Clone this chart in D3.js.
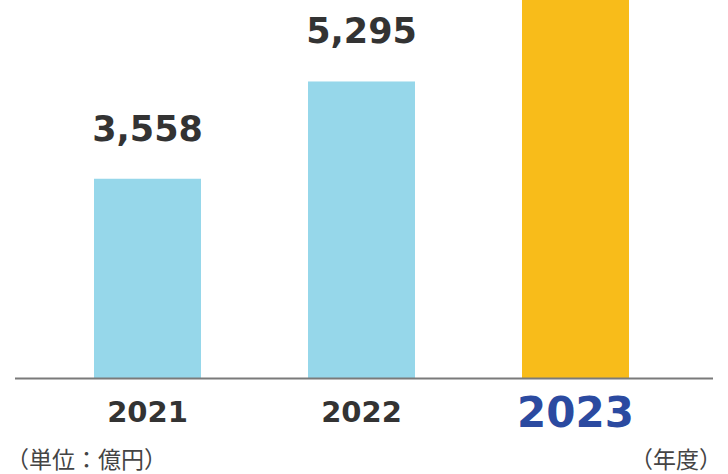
<!DOCTYPE html>
<html><head><meta charset="utf-8">
<script src="https://cdn.jsdelivr.net/npm/d3@7"></script>
<style>html,body{margin:0;padding:0;background:#fff;overflow:hidden}</style>
</head><body>
<svg id="c" width="728" height="474"></svg>
<script>
const years = ["2021", "2022", "2023"];
const values = [3558, 5295, 7000];
const highlight = "2023";
const unitLabel = "（単位：億円）";
const yearLabel = "（年度）";

const svg = d3.select("#c");
const baseY = 378;
const x = d3.scaleBand().domain(years).range([40.5, 682.5]).paddingInner(0.5).paddingOuter(0.25);
const y = d3.scaleLinear().domain([0, 6750]).range([baseY, 0]);
const fmt = d3.format(",");

svg.selectAll("rect.bar").data(years).join("rect")
  .attr("class", "bar")
  .attr("x", d => x(d))
  .attr("width", x.bandwidth())
  .attr("y", (d, i) => Math.max(0, y(values[i])))
  .attr("height", (d, i) => baseY - Math.max(0, y(values[i])))
  .attr("fill", d => d === highlight ? "#f8bc1a" : "#96d7ea");

svg.selectAll("text.val").data(years.filter((d, i) => y(values[i]) - 38 > 20)).join("text")
  .attr("class", "val")
  .attr("x", d => x(d) + x.bandwidth() / 2)
  .attr("y", d => y(values[years.indexOf(d)]) - 38)
  .attr("text-anchor", "middle")
  .attr("font-family", "DejaVu Sans")
  .attr("font-weight", "bold")
  .attr("font-size", 35)
  .attr("fill", "#333")
  .text(d => fmt(values[years.indexOf(d)]));

svg.append("line")
  .attr("x1", 15).attr("x2", 713)
  .attr("y1", baseY + 0.5).attr("y2", baseY + 0.5)
  .attr("stroke", "#7a7a7a").attr("stroke-width", 2);

svg.selectAll("text.yr").data(years).join("text")
  .attr("class", "yr")
  .attr("x", d => x(d) + x.bandwidth() / 2)
  .attr("y", d => d === highlight ? 427 : 422)
  .attr("text-anchor", "middle")
  .attr("font-family", "DejaVu Sans")
  .attr("font-weight", "bold")
  .attr("font-size", d => d === highlight ? 42 : 29)
  .attr("fill", d => d === highlight ? "#2b4aa0" : "#333")
  .text(d => d);

svg.append("text")
  .attr("x", 6).attr("y", 468)
  .attr("font-family", "Noto Sans CJK JP")
  .attr("font-size", 23)
  .attr("fill", "#444")
  .text(unitLabel);

svg.append("text")
  .attr("x", 722).attr("y", 468)
  .attr("text-anchor", "end")
  .attr("font-family", "Noto Sans CJK JP")
  .attr("font-size", 23)
  .attr("fill", "#444")
  .text(yearLabel);
</script>
</body></html>
